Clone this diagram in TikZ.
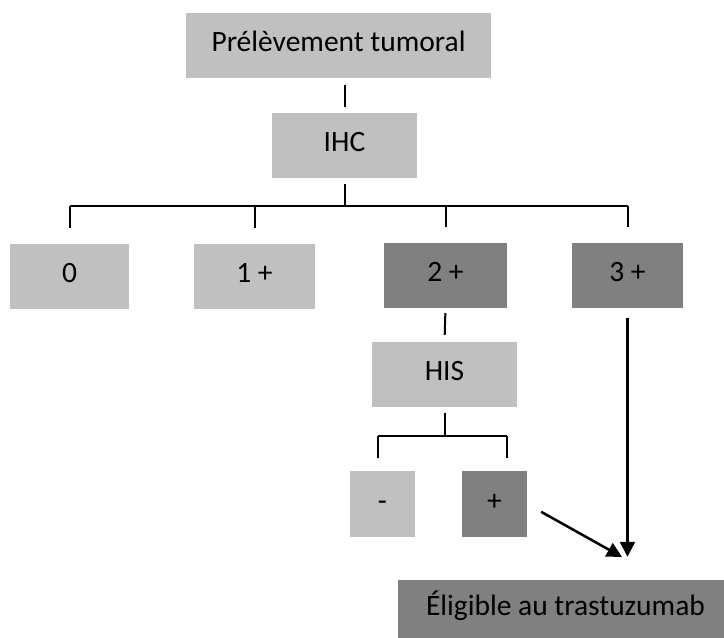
\documentclass[tikz,border=0pt]{standalone}
\usepackage{fontspec}
\setmainfont{Carlito}
\usetikzlibrary{arrows.meta}
\definecolor{boxlight}{HTML}{C0C0C0}
\definecolor{boxdark}{HTML}{808080}

\begin{document}
\begin{tikzpicture}[x=1pt,y=-1pt,
    light/.style={fill=boxlight,minimum height=65pt,inner sep=0pt,text height=12pt,text depth=0pt,font=\fontsize{29.5}{35}\selectfont},
    dark/.style={light,fill=boxdark},
    link/.style={line width=2pt},
    arr/.style={line width=2.5pt,-{Triangle[length=15pt,width=15pt]}}]
    \useasboundingbox (0,0) rectangle (724,638);
    \node[light,minimum width=305pt] (prel) at (338.5,45.5) {Prélèvement tumoral};
    \node[light,minimum width=145pt] (ihc) at (344.5,145.5) {IHC};
    \node[light,minimum width=119pt] (n0) at (69.5,276.5) {0};
    \node[light,minimum width=121pt] (n1) at (254.5,276.5) {1 +};
    \node[dark,minimum width=123pt] (n2) at (445.5,275.5) {2 +};
    \node[dark,minimum width=111pt] (n3) at (627.5,275.5) {3 +};
    \node[light,minimum width=145pt] (his) at (444.5,374.5) {HIS};
    \node[light,minimum width=65pt,minimum height=66pt] (neg) at (382.5,504) {-};
    \node[dark,minimum width=65pt,minimum height=66pt] (pos) at (494.5,504) {+};
    \node[dark,minimum width=335pt,minimum height=58pt] (elig) at (565.5,609) {Éligible au trastuzumab};
    % ihc branches
    \coordinate (bar) at (347,206);
    \draw[link,shorten <=7pt,shorten >=6pt] (ihc.north |- prel.south) -- (ihc.north);
    \draw[link,shorten <=6pt] (ihc.south) -- (ihc.south |- bar);
    \draw[link] (n0.north |- bar) -- (n3.north |- bar);
    \foreach \n in {n0,n1,n2,n3}
        \draw[link,shorten >=16pt] (\n.north |- bar) -- (\n.north);
    % his branches
    \coordinate (hl) at (378,436);
    \coordinate (hr) at (507,436);
    \draw[link,shorten <=5pt,shorten >=7pt] (n2.south) -- (his.north);
    \draw[link,shorten <=6pt] (his.south) -- (his.south |- hl);
    \draw[link] (hl) -- (hr);
    \draw[link,shorten >=13pt] (hl) -- (hl |- neg.north);
    \draw[link,shorten >=13pt] (hr) -- (hr |- pos.north);
    % arrows
    \coordinate (meet) at (622,557);
    \draw[arr,shorten <=10pt,shorten >=23pt] (n3.south) -- (n3.south |- elig.north);
    \draw[arr,shorten <=16pt] (pos.east) -- (meet);
\end{tikzpicture}
\end{document}
